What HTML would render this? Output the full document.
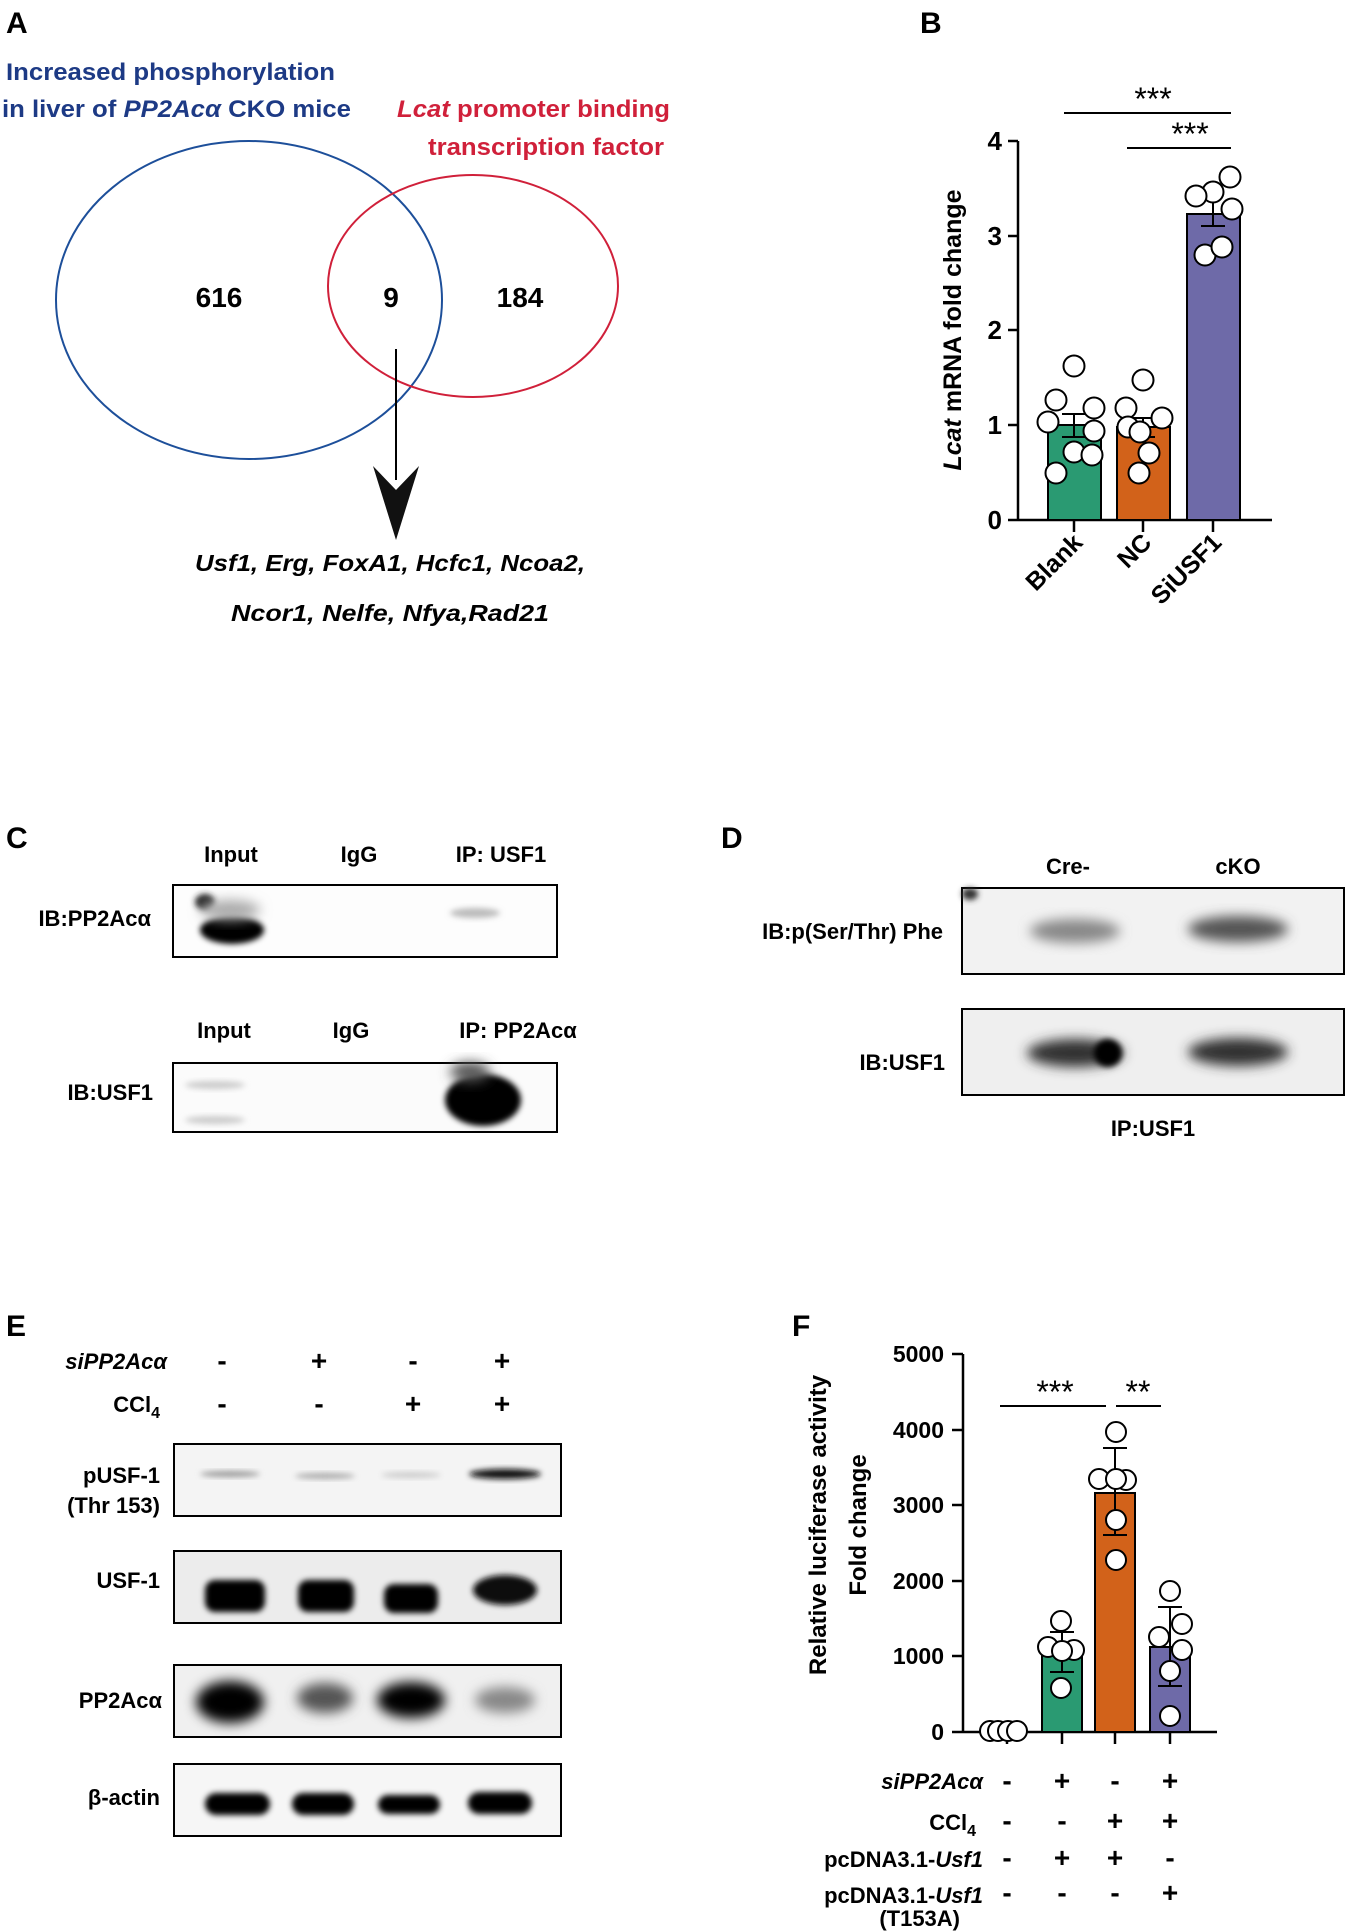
<!DOCTYPE html>
<html><head><meta charset="utf-8"><style>
html,body{margin:0;padding:0;background:#fff;}
svg{display:block;font-family:"Liberation Sans",Arial,sans-serif;font-weight:bold;}
</style></head><body>
<svg width="1348" height="1931" viewBox="0 0 1348 1931" xmlns="http://www.w3.org/2000/svg">
<defs>
<filter id="b3" x="-50%" y="-50%" width="200%" height="200%"><feGaussianBlur stdDeviation="3"/></filter>
<filter id="b6" x="-50%" y="-50%" width="200%" height="200%"><feGaussianBlur stdDeviation="6"/></filter>
<filter id="b10" x="-50%" y="-50%" width="200%" height="200%"><feGaussianBlur stdDeviation="10"/></filter>
</defs>
<!-- Panel A -->
<text x="6" y="33" font-size="30">A</text>
<text x="6" y="80" font-size="24" fill="#1d3a85" textLength="329" lengthAdjust="spacingAndGlyphs">Increased phosphorylation</text>
<text x="2" y="117" font-size="24" fill="#1d3a85" textLength="349" lengthAdjust="spacingAndGlyphs">in liver of <tspan font-style="italic">PP2Acα</tspan> CKO mice</text>
<text x="397" y="117" font-size="24" fill="#d0203a" textLength="273" lengthAdjust="spacingAndGlyphs"><tspan font-style="italic">Lcat</tspan> promoter binding</text>
<text x="428" y="155" font-size="24" fill="#d0203a" textLength="236" lengthAdjust="spacingAndGlyphs">transcription factor</text>
<ellipse cx="249" cy="300" rx="193" ry="159" fill="none" stroke="#1d4f9a" stroke-width="2"/>
<ellipse cx="473" cy="286" rx="145" ry="111" fill="none" stroke="#d0203a" stroke-width="2"/>
<text x="219" y="307" font-size="28" text-anchor="middle">616</text>
<text x="391" y="307" font-size="28" text-anchor="middle">9</text>
<text x="520" y="307" font-size="28" text-anchor="middle">184</text>
<line x1="396" y1="349" x2="396" y2="480" stroke="#000" stroke-width="2"/>
<polygon points="373,466 396,490 419,466 396,540" fill="#111"/>
<text x="390" y="571" font-size="23" font-style="italic" text-anchor="middle" textLength="390" lengthAdjust="spacingAndGlyphs">Usf1, Erg, FoxA1, Hcfc1, Ncoa2,</text>
<text x="390" y="621" font-size="23" font-style="italic" text-anchor="middle" textLength="318" lengthAdjust="spacingAndGlyphs">Ncor1, Nelfe, Nfya,Rad21</text>

<!-- Panel B -->
<text x="920" y="33" font-size="30">B</text>
<g stroke="#000" stroke-width="2.5">
<line x1="1018" y1="141" x2="1018" y2="521"/>
<line x1="1018" y1="520" x2="1272" y2="520"/>
<line x1="1008" y1="141" x2="1018" y2="141"/>
<line x1="1008" y1="236" x2="1018" y2="236"/>
<line x1="1008" y1="330" x2="1018" y2="330"/>
<line x1="1008" y1="425" x2="1018" y2="425"/>
<line x1="1008" y1="520" x2="1018" y2="520"/>
<line x1="1074" y1="520" x2="1074" y2="532"/>
<line x1="1143" y1="520" x2="1143" y2="532"/>
<line x1="1213" y1="520" x2="1213" y2="532"/>
</g>
<g font-size="26" text-anchor="end">
<text x="1002" y="150">4</text><text x="1002" y="245">3</text><text x="1002" y="339">2</text><text x="1002" y="434">1</text><text x="1002" y="529">0</text>
</g>
<text transform="translate(961,330) rotate(-90)" font-size="25" text-anchor="middle"><tspan font-style="italic">Lcat</tspan> mRNA fold change</text>
<rect x="1048" y="425" width="53" height="95" fill="#2a9a72" stroke="#000" stroke-width="2"/>
<rect x="1117" y="427" width="53" height="93" fill="#d2621a" stroke="#000" stroke-width="2"/>
<rect x="1187" y="214" width="53" height="306" fill="#6e6aa8" stroke="#000" stroke-width="2"/>
<g stroke="#000" stroke-width="2">
<line x1="1074" y1="414" x2="1074" y2="437"/><line x1="1062" y1="414" x2="1086" y2="414"/><line x1="1062" y1="437" x2="1086" y2="437"/>
<line x1="1143" y1="418" x2="1143" y2="437"/><line x1="1131" y1="418" x2="1155" y2="418"/><line x1="1131" y1="437" x2="1155" y2="437"/>
<line x1="1213" y1="202" x2="1213" y2="226"/><line x1="1201" y1="226" x2="1225" y2="226"/>
</g>
<g fill="#fff" stroke="#000" stroke-width="2">
<circle cx="1074" cy="366" r="10.5"/><circle cx="1056" cy="400" r="10.5"/><circle cx="1094" cy="408" r="10.5"/><circle cx="1048" cy="422" r="10.5"/><circle cx="1094" cy="431" r="10.5"/><circle cx="1074" cy="452" r="10.5"/><circle cx="1092" cy="455" r="10.5"/><circle cx="1056" cy="473" r="10.5"/>
<circle cx="1143" cy="380" r="10.5"/><circle cx="1126" cy="408" r="10.5"/><circle cx="1162" cy="418" r="10.5"/><circle cx="1128" cy="427" r="10.5"/><circle cx="1140" cy="432" r="10.5"/><circle cx="1149" cy="453" r="10.5"/><circle cx="1139" cy="473" r="10.5"/>
<circle cx="1230" cy="177" r="10.5"/><circle cx="1213" cy="192" r="10.5"/><circle cx="1196" cy="196" r="10.5"/><circle cx="1232" cy="209" r="10.5"/><circle cx="1205" cy="255" r="10.5"/><circle cx="1222" cy="247" r="10.5"/>
</g>
<g stroke="#000" stroke-width="2"><line x1="1064" y1="113" x2="1231" y2="113"/><line x1="1127" y1="148" x2="1231" y2="148"/></g>
<text x="1153" y="110" font-size="32" text-anchor="middle" font-weight="normal">***</text>
<text x="1190" y="145" font-size="32" text-anchor="middle" font-weight="normal">***</text>
<g font-size="25">
<text transform="translate(1084,544) rotate(-45)" text-anchor="end">Blank</text>
<text transform="translate(1153,544) rotate(-45)" text-anchor="end">NC</text>
<text transform="translate(1223,544) rotate(-45)" text-anchor="end">SiUSF1</text>
</g>

<!-- Panel C -->
<text x="6" y="848" font-size="30">C</text>
<g font-size="22" text-anchor="middle">
<text x="231" y="862">Input</text><text x="359" y="862">IgG</text><text x="501" y="862">IP: USF1</text>
<text x="224" y="1038">Input</text><text x="351" y="1038">IgG</text><text x="518" y="1038">IP: PP2Acα</text>
</g>
<g font-size="22" text-anchor="end"><text x="151" y="926">IB:PP2Acα</text><text x="153" y="1100">IB:USF1</text></g>
<rect x="173" y="885" width="384" height="72" fill="#fdfdfd" stroke="#000" stroke-width="2"/>
<ellipse cx="232" cy="930" rx="32" ry="14" fill="#000" filter="url(#b3)"/>
<ellipse cx="205" cy="902" rx="10" ry="8" fill="#222" filter="url(#b3)"/>
<ellipse cx="230" cy="910" rx="30" ry="10" fill="#aaa" filter="url(#b6)"/>
<ellipse cx="475" cy="913" rx="25" ry="5" fill="#bbb" filter="url(#b3)"/>
<rect x="173" y="1063" width="384" height="69" fill="#fbfbfb" stroke="#000" stroke-width="2"/>
<ellipse cx="215" cy="1085" rx="30" ry="4" fill="#ccc" filter="url(#b3)"/>
<ellipse cx="215" cy="1120" rx="30" ry="4" fill="#ccc" filter="url(#b3)"/>
<ellipse cx="483" cy="1100" rx="38" ry="26" fill="#000" filter="url(#b3)"/>
<ellipse cx="470" cy="1072" rx="20" ry="10" fill="#555" filter="url(#b6)"/>

<!-- Panel D -->
<text x="721" y="848" font-size="30">D</text>
<g font-size="22" text-anchor="middle"><text x="1068" y="874">Cre-</text><text x="1238" y="874">cKO</text><text x="1153" y="1136">IP:USF1</text></g>
<g font-size="22" text-anchor="end"><text x="943" y="939">IB:p(Ser/Thr) Phe</text><text x="945" y="1070">IB:USF1</text></g>
<rect x="962" y="888" width="382" height="86" fill="#f2f2f2" stroke="#000" stroke-width="2"/>
<ellipse cx="1075" cy="931" rx="45" ry="12" fill="#888" filter="url(#b6)"/>
<ellipse cx="1238" cy="929" rx="50" ry="13" fill="#555" filter="url(#b6)"/>
<ellipse cx="970" cy="894" rx="8" ry="6" fill="#333" filter="url(#b3)"/>
<rect x="962" y="1009" width="382" height="86" fill="#efefef" stroke="#000" stroke-width="2"/>
<ellipse cx="1075" cy="1053" rx="48" ry="14" fill="#333" filter="url(#b6)"/>
<ellipse cx="1108" cy="1053" rx="14" ry="14" fill="#000" filter="url(#b3)"/>
<ellipse cx="1238" cy="1052" rx="50" ry="14" fill="#333" filter="url(#b6)"/>

<!-- Panel E -->
<text x="6" y="1336" font-size="30">E</text>
<text x="167" y="1369" font-size="22" font-style="italic" text-anchor="end">siPP2Acα</text>
<text x="160" y="1412" font-size="22" text-anchor="end">CCl<tspan font-size="16" dy="6">4</tspan></text>
<g font-size="28" text-anchor="middle">
<text x="222" y="1370">-</text><text x="319" y="1370">+</text><text x="413" y="1370">-</text><text x="502" y="1370">+</text>
<text x="222" y="1413">-</text><text x="319" y="1413">-</text><text x="413" y="1413">+</text><text x="502" y="1413">+</text>
</g>
<g font-size="22" text-anchor="end">
<text x="160" y="1483">pUSF-1</text><text x="160" y="1513">(Thr 153)</text>
<text x="160" y="1588">USF-1</text><text x="162" y="1708">PP2Acα</text><text x="160" y="1805">β-actin</text>
</g>
<rect x="174" y="1444" width="387" height="72" fill="#f4f4f4" stroke="#000" stroke-width="2"/>
<ellipse cx="230" cy="1474" rx="30" ry="3" fill="#999" filter="url(#b3)"/>
<ellipse cx="325" cy="1476" rx="30" ry="3" fill="#aaa" filter="url(#b3)"/>
<ellipse cx="411" cy="1475" rx="30" ry="3" fill="#ccc" filter="url(#b3)"/>
<ellipse cx="505" cy="1474" rx="36" ry="5" fill="#111" filter="url(#b3)"/>
<rect x="174" y="1551" width="387" height="72" fill="#ececec" stroke="#000" stroke-width="2"/>
<g fill="#000" filter="url(#b3)">
<rect x="205" y="1580" width="60" height="32" rx="10"/><rect x="298" y="1580" width="56" height="32" rx="10"/><rect x="384" y="1584" width="54" height="29" rx="10"/><ellipse cx="505" cy="1590" rx="32" ry="15" fill="#111"/>
</g>
<rect x="174" y="1665" width="387" height="72" fill="#f0f0f0" stroke="#000" stroke-width="2"/>
<g filter="url(#b6)">
<ellipse cx="230" cy="1702" rx="34" ry="21" fill="#000"/><ellipse cx="325" cy="1698" rx="28" ry="15" fill="#555"/><ellipse cx="411" cy="1700" rx="34" ry="18" fill="#000"/><ellipse cx="505" cy="1700" rx="30" ry="13" fill="#888"/>
</g>
<rect x="174" y="1764" width="387" height="72" fill="#f6f6f6" stroke="#000" stroke-width="2"/>
<g fill="#000" filter="url(#b3)">
<rect x="205" y="1793" width="65" height="22" rx="11"/><rect x="292" y="1793" width="62" height="22" rx="11"/><rect x="378" y="1795" width="62" height="19" rx="10"/><rect x="468" y="1792" width="64" height="22" rx="11"/>
</g>

<!-- Panel F -->
<text x="792" y="1336" font-size="30">F</text>
<g stroke="#000" stroke-width="2.5">
<line x1="963" y1="1354" x2="963" y2="1733"/>
<line x1="963" y1="1732" x2="1217" y2="1732"/>
<line x1="952" y1="1354" x2="963" y2="1354"/><line x1="952" y1="1430" x2="963" y2="1430"/><line x1="952" y1="1505" x2="963" y2="1505"/><line x1="952" y1="1581" x2="963" y2="1581"/><line x1="952" y1="1656" x2="963" y2="1656"/><line x1="952" y1="1732" x2="963" y2="1732"/>
<line x1="1007" y1="1732" x2="1007" y2="1744"/><line x1="1062" y1="1732" x2="1062" y2="1744"/><line x1="1115" y1="1732" x2="1115" y2="1744"/><line x1="1170" y1="1732" x2="1170" y2="1744"/>
</g>
<g font-size="23" text-anchor="end">
<text x="944" y="1362">5000</text><text x="944" y="1438">4000</text><text x="944" y="1513">3000</text><text x="944" y="1589">2000</text><text x="944" y="1664">1000</text><text x="944" y="1740">0</text>
</g>
<text transform="translate(826,1525) rotate(-90)" font-size="24" text-anchor="middle">Relative luciferase activity</text>
<text transform="translate(866,1525) rotate(-90)" font-size="24" text-anchor="middle">Fold change</text>
<rect x="1042" y="1650" width="40" height="82" fill="#2a9a72" stroke="#000" stroke-width="2"/>
<rect x="1095" y="1493" width="40" height="239" fill="#d2621a" stroke="#000" stroke-width="2"/>
<rect x="1150" y="1647" width="40" height="85" fill="#6e6aa8" stroke="#000" stroke-width="2"/>
<g stroke="#000" stroke-width="2">
<line x1="1062" y1="1632" x2="1062" y2="1672"/><line x1="1050" y1="1672" x2="1074" y2="1672"/><line x1="1050" y1="1632" x2="1074" y2="1632"/>
<line x1="1115" y1="1448" x2="1115" y2="1535"/><line x1="1103" y1="1448" x2="1127" y2="1448"/><line x1="1103" y1="1535" x2="1127" y2="1535"/>
<line x1="1170" y1="1607" x2="1170" y2="1686"/><line x1="1158" y1="1607" x2="1182" y2="1607"/><line x1="1158" y1="1686" x2="1182" y2="1686"/>
</g>
<g fill="#fff" stroke="#000" stroke-width="2">
<circle cx="990" cy="1731" r="10"/><circle cx="998" cy="1731" r="10"/><circle cx="1008" cy="1731" r="10"/><circle cx="1017" cy="1731" r="10"/>
<circle cx="1061" cy="1621" r="10"/><circle cx="1048" cy="1647" r="10"/><circle cx="1074" cy="1650" r="10"/><circle cx="1062" cy="1651" r="10"/><circle cx="1061" cy="1688" r="10"/>
<circle cx="1116" cy="1432" r="10"/><circle cx="1099" cy="1479" r="10"/><circle cx="1126" cy="1480" r="10"/><circle cx="1116" cy="1479" r="10"/><circle cx="1116" cy="1520" r="10"/><circle cx="1116" cy="1560" r="10"/>
<circle cx="1170" cy="1591" r="10"/><circle cx="1182" cy="1624" r="10"/><circle cx="1159" cy="1637" r="10"/><circle cx="1182" cy="1650" r="10"/><circle cx="1170" cy="1671" r="10"/><circle cx="1170" cy="1716" r="10"/>
</g>
<g stroke="#000" stroke-width="2"><line x1="1000" y1="1406" x2="1106" y2="1406"/><line x1="1116" y1="1406" x2="1161" y2="1406"/></g>
<text x="1055" y="1403" font-size="32" text-anchor="middle" font-weight="normal">***</text>
<text x="1138" y="1403" font-size="32" text-anchor="middle" font-weight="normal">**</text>
<g font-size="22" text-anchor="end">
<text x="983" y="1789" font-style="italic">siPP2Acα</text>
<text x="976" y="1830">CCl<tspan font-size="16" dy="6">4</tspan></text>
<text x="983" y="1867">pcDNA3.1-<tspan font-style="italic">Usf1</tspan></text>
<text x="983" y="1903">pcDNA3.1-<tspan font-style="italic">Usf1</tspan></text>
<text x="960" y="1926">(T153A)</text>
</g>
<g font-size="28" text-anchor="middle">
<text x="1007" y="1790">-</text><text x="1062" y="1790">+</text><text x="1115" y="1790">-</text><text x="1170" y="1790">+</text>
<text x="1007" y="1830">-</text><text x="1062" y="1830">-</text><text x="1115" y="1830">+</text><text x="1170" y="1830">+</text>
<text x="1007" y="1867">-</text><text x="1062" y="1867">+</text><text x="1115" y="1867">+</text><text x="1170" y="1867">-</text>
<text x="1007" y="1902">-</text><text x="1062" y="1902">-</text><text x="1115" y="1902">-</text><text x="1170" y="1902">+</text>
</g>
</svg>
</body></html>
